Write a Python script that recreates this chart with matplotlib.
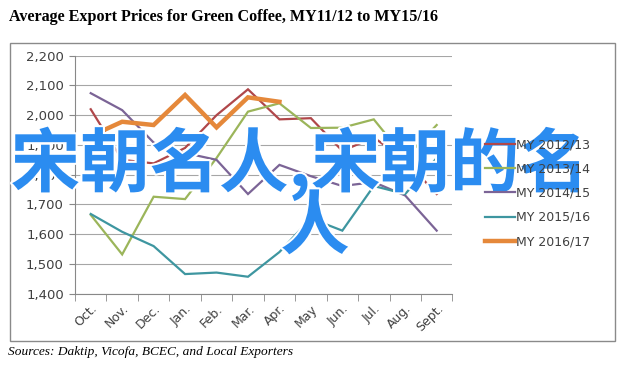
import matplotlib
matplotlib.use('Agg')
import matplotlib.pyplot as plt
import matplotlib.patheffects as pe
from matplotlib.patches import Rectangle

months = ['Oct.', 'Nov.', 'Dec.', 'Jan.', 'Feb.', 'Mar.', 'Apr.', 'May', 'Jun.', 'Jul.', 'Aug.', 'Sept.']
my_1213 = [2020, 1850, 1838, 1890, 2000, 2087, 1986, 1990, 1880, 1925, 1849, 1735]
my_1314 = [1665, 1532, 1726, 1718, 1856, 2012, 2040, 1957, 1958, 1986, 1856, 1967]
my_1415 = [2074, 2017, 1908, 1873, 1850, 1735, 1833, 1795, 1762, 1775, 1730, 1612]
my_1516 = [1668, 1608, 1560, 1466, 1471, 1457, 1540, 1653, 1612, 1762, 1735, 1856]
my_1617 = [1930, 1978, 1967, 2068, 1959, 2060, 2045]
y_ticks = [1400, 1500, 1600, 1700, 1800, 1900, 2000, 2100, 2200]

series = [
    ('MY 2012/13', my_1213, '#B0474A', 1.6),
    ('MY 2013/14', my_1314, '#9BB55A', 1.6),
    ('MY 2014/15', my_1415, '#7B6496', 1.6),
    ('MY 2015/16', my_1516, '#3E96A0', 1.6),
    ('MY 2016/17', my_1617, '#E5883A', 3.2),
]

W, H = 628, 372
fig = plt.figure(figsize=(W / 100, H / 100), dpi=100)

# outer chart frame
fig.patches.append(Rectangle((10 / W, 1 - 341 / H), 605 / W, 298 / H,
                             transform=fig.transFigure, fill=False,
                             edgecolor='#8a8a8a', linewidth=1.0))

ax = fig.add_axes([75 / W, 1 - 293.7 / H, 377.4 / W, 238 / H])
x = list(range(len(months)))
for label, vals, color, lw in series:
    ax.plot(x[:len(vals)], vals, color=color, linewidth=lw, label=label,
            solid_joinstyle='miter')

ax.set_xlim(-0.5, len(months) - 0.5)
ax.set_ylim(1400, 2200)
ax.set_yticks(y_ticks)
ax.set_yticklabels([f'{v:,}' for v in y_ticks])
ax.yaxis.grid(True, color='#a6a6a6', linewidth=0.8)
ax.set_axisbelow(True)
for s in ['top', 'right']:
    ax.spines[s].set_visible(False)
for s in ['left', 'bottom']:
    ax.spines[s].set_color('#888888')
ax.tick_params(axis='y', colors='#888888', labelcolor='#404040', labelsize=9.5,
               length=4, pad=4)
ax.set_xticks(x)
ax.set_xticklabels(months, rotation=45, ha='right', rotation_mode='anchor')
ax.tick_params(axis='x', length=0, labelcolor='#404040', labelsize=9, pad=6)
ax.set_xticks([i - 0.5 for i in range(len(months) + 1)], minor=True)
ax.tick_params(axis='x', which='minor', length=5, color='#888888')

fig.legend(loc='upper left', bbox_to_anchor=(474 / W, 1 - 127 / H),
           frameon=False, fontsize=9, labelcolor='#404040',
           handlelength=2.4, labelspacing=0.9, handletextpad=0.1)

fig.text(9 / W, 1 - 17 / H,
         'Average Export Prices for Green Coffee, MY11/12 to MY15/16',
         family='Liberation Serif', weight='bold', fontsize=11.6, va='center')
fig.text(8 / W, 1 - 352 / H, 'Sources: Daktip, Vicofa, BCEC, and Local Exporters',
         family='Liberation Serif', style='italic', fontsize=9.6, va='center')

# overlay watermark text
stroke = [pe.withStroke(linewidth=3, foreground='white')]
fig.text(300 / W, 1 - 164 / H, '宋朝名人,宋朝的名', family=['Noto Sans CJK SC', 'DejaVu Sans'],
         weight='bold', fontsize=50, color='#2B8CF0', ha='center', va='center',
         path_effects=stroke)
fig.text(315 / W, 1 - 228 / H, '人', family=['Noto Sans CJK SC', 'DejaVu Sans'],
         weight='bold', fontsize=50, color='#2B8CF0', ha='center', va='center',
         path_effects=stroke)

fig.savefig('out.png', dpi=100)
